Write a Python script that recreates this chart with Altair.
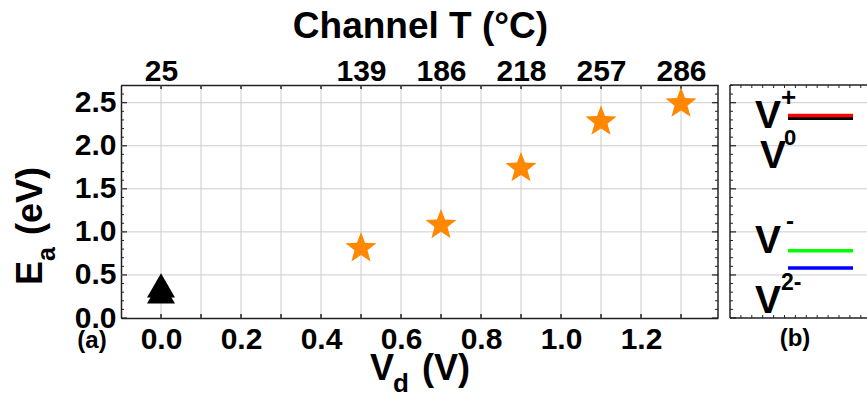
import math
import altair as alt
import pandas as pd

# ---- data -------------------------------------------------------------
# activation energy vs drain voltage (stars) and the zero-bias points (triangles)
vd_star = [0.5, 0.7, 0.9, 1.1, 1.3]
ea_star = [0.81, 1.08, 1.74, 2.28, 2.49]
vd_tri = [0.0, 0.0]
ea_tri = [0.38, 0.31]

# channel temperature reached at each drain voltage (top axis)
vd_temp = [0.0, 0.5, 0.7, 0.9, 1.1, 1.3]
temp_c = ["25", "139", "186", "218", "257", "286"]

# axis ticks
vd_grid = [0.0, 0.1, 0.2, 0.3, 0.4, 0.5, 0.6, 0.7, 0.8, 0.9, 1.0, 1.1, 1.2, 1.3]
ea_major = [0.0, 0.5, 1.0, 1.5, 2.0, 2.5]
ea_minor = [0.1, 0.2, 0.3, 0.4, 0.6, 0.7, 0.8, 0.9, 1.1, 1.2, 1.3, 1.4,
            1.6, 1.7, 1.8, 1.9, 2.1, 2.2, 2.3, 2.4, 2.6, 2.7]
pb_ticks = [1, 2, 3, 4, 5, 6, 7, 8, 9, 10, 11, 12]

# defect charge-transition levels (panel b)
level_names = ["+/0 (i)", "+/0 (ii)", "0/-", "-/2-"]
level_ea = [2.32, 2.35, 0.78, 0.58]
level_colors = ["#000000", "#ff0000", "#00ff00", "#0000ff"]

# ---- layout -----------------------------------------------------------
FONT = "Liberation Sans"
W_MAIN, B_LEFT, W, H = 597, 609, 746, 233
GRID = "#cccccc"
AX = "#222222"
ORANGE = "#ff8800"
TICK_FS = 30

xs = alt.Scale(domain=[-0.1, 1.3925], range=[0, W_MAIN], nice=False, zero=False)
ys = alt.Scale(domain=[0, 2.7055], nice=False, zero=False)
xb = alt.Scale(domain=[0, 12.57], range=[B_LEFT, W], nice=False, zero=False)

y_axis = alt.Axis(values=ea_major, format=".1f", tickSize=0, labelPadding=5,
                  labelFont=FONT, labelFontSize=TICK_FS, labelFontWeight="bold",
                  labelColor="black", domainColor=AX, domainWidth=1.5,
                  grid=False, title=None, labelOverlap=False)


def yenc(field):
    return alt.Y(f"{field}:Q", scale=ys, axis=y_axis)


def xenc(field, axis=None):
    return alt.X(f"{field}:Q", scale=xs, axis=axis)


grid_df = pd.DataFrame({"vd": vd_grid})
major_df = pd.DataFrame({"ea": ea_major})
minor_df = pd.DataFrame({"ea": ea_minor})
hgrid_df = pd.DataFrame({"ea": ea_major[1:]})
pb_df = pd.DataFrame({"k": pb_ticks})
star_df = pd.DataFrame({"vd": vd_star, "ea": ea_star})
tri_df = pd.DataFrame({"vd": vd_tri, "ea": ea_tri})
lvl_df = pd.DataFrame({"name": level_names, "ea": level_ea})
one = pd.DataFrame({"_": [0]})

# five-pointed star marker in the [-1, 1] box
pts = []
for k in range(10):
    a = math.radians(-90 + 36 * k)
    r = 1.0 if k % 2 == 0 else 0.42
    pts.append(f"{r * math.cos(a):.4f},{r * math.sin(a):.4f}")
STAR = "M" + "L".join(pts) + "Z"

bottom_axis = alt.Axis(
    orient="bottom", values=vd_grid, grid=False, tickSize=0,
    labelExpr="round(datum.value * 10) % 2 == 0 && datum.value < 1.25 ? format(datum.value, '.1f') : ''",
    labelFont=FONT, labelFontSize=TICK_FS, labelFontWeight="bold", labelColor="black",
    labelBaseline="alphabetic", labelPadding=30, labelOverlap=False, labelFlush=False,
    domainColor=AX, domainWidth=1.5, title=None)

vd_temp_js = "[" + ",".join(str(v) for v in vd_temp) + "]"
temp_js = "[" + ",".join(f"'{t}'" for t in temp_c) + "]"
top_axis = alt.Axis(
    orient="top", values=vd_temp, grid=False, tickSize=0,
    labelExpr=f"{temp_js}[indexof({vd_temp_js}, datum.value)]",
    labelFont=FONT, labelFontSize=TICK_FS, labelFontWeight="bold", labelColor="black",
    labelBaseline="alphabetic", labelPadding=5, labelOverlap=False, labelFlush=False,
    domainColor=AX, domainWidth=1.5,
    title="Channel T (°C)", titleFont=FONT, titleFontSize=37, titleFontWeight="bold",
    titleColor="black", titleX=299, titleY=-48, titleAlign="center",
    titleBaseline="alphabetic", titleAngle=0)

layers = []

# horizontal grid lines in both panels
layers.append(alt.Chart(hgrid_df).mark_rule(color=GRID, strokeWidth=1).encode(
    y=yenc("ea"), x=alt.value(0), x2=alt.value(W_MAIN)))
layers.append(alt.Chart(hgrid_df).mark_rule(color=GRID, strokeWidth=1).encode(
    y=yenc("ea"), x=alt.value(B_LEFT), x2=alt.value(W)))

# vertical grid lines, carrying the V_d axis
layers.append(alt.Chart(grid_df).mark_rule(color=GRID, strokeWidth=1).encode(
    x=xenc("vd", bottom_axis)))

# inward ticks on the top edge, carrying the temperature axis
layers.append(alt.Chart(grid_df).mark_rule(color=AX, strokeWidth=1.5).encode(
    x=xenc("vd", top_axis), y=alt.value(0), y2=alt.value(4)))

# inward ticks on the bottom edge
layers.append(alt.Chart(grid_df).mark_rule(color=AX, strokeWidth=1.5).encode(
    x=xenc("vd"), y=alt.value(H), y2=alt.value(H - 4)))

# inward y ticks: left and right of panel (a), left of panel (b)
for x0, d in [(0, 1), (W_MAIN, -1), (B_LEFT, 1)]:
    layers.append(alt.Chart(major_df).mark_rule(color=AX, strokeWidth=1.2).encode(
        y=yenc("ea"), x=alt.value(x0), x2=alt.value(x0 + 6 * d)))
    layers.append(alt.Chart(minor_df).mark_rule(color=AX, strokeWidth=1).encode(
        y=yenc("ea"), x=alt.value(x0), x2=alt.value(x0 + 3 * d)))

# frame lines not drawn by axes
layers.append(alt.Chart(one).mark_rule(color=AX, strokeWidth=1.5).encode(
    x=alt.value(W_MAIN), y=alt.value(0), y2=alt.value(H)))
layers.append(alt.Chart(one).mark_rule(color=AX, strokeWidth=1.5).encode(
    x=alt.value(B_LEFT), y=alt.value(0), y2=alt.value(H)))
layers.append(alt.Chart(one).mark_rule(color=AX, strokeWidth=1.5).encode(
    x=alt.value(B_LEFT), x2=alt.value(W), y=alt.value(0)))
layers.append(alt.Chart(one).mark_rule(color=AX, strokeWidth=1.5).encode(
    x=alt.value(B_LEFT), x2=alt.value(W), y=alt.value(H)))

# small ticks on the top and bottom edge of panel (b)
layers.append(alt.Chart(pb_df).mark_rule(color=AX, strokeWidth=1).encode(
    x=alt.X("k:Q", scale=xb, axis=None), y=alt.value(0), y2=alt.value(3)))
layers.append(alt.Chart(pb_df).mark_rule(color=AX, strokeWidth=1).encode(
    x=alt.X("k:Q", scale=xb, axis=None), y=alt.value(H), y2=alt.value(H - 3)))

# transition levels
layers.append(alt.Chart(lvl_df).mark_rule(strokeWidth=3.5).encode(
    y=yenc("ea"), x=alt.value(667), x2=alt.value(732),
    color=alt.Color("name:N", scale=alt.Scale(domain=level_names, range=level_colors),
                    legend=None)))

# data points
layers.append(alt.Chart(tri_df).mark_point(
    shape="triangle-up", size=784, filled=True, color="black", opacity=1).encode(
    x=xenc("vd"), y=yenc("ea")))
layers.append(alt.Chart(star_df).mark_point(
    shape=STAR, size=1063, filled=True, color=ORANGE, opacity=1, strokeWidth=0).encode(
    x=xenc("vd"), y=yenc("ea")))


def txt(s, x, y, size, angle=0, align="left", baseline="alphabetic"):
    return alt.Chart(one).mark_text(
        text=s, font=FONT, fontWeight="bold", fontSize=size, angle=angle,
        align=align, baseline=baseline, color="black").encode(
        x=alt.value(x), y=alt.value(y))


# axis titles with subscripts
layers += [
    txt("V", 249, 295, 36),
    txt("d", 272, 307, 26),
    txt("(V)", 301, 295, 36),
    txt("E", -79, 200, 36, angle=270),
    txt("a", -66, 176, 25, angle=270),
    txt("(eV)", -79, 150, 36, angle=270),
    txt("(a)", -29, 256, 24, align="center", baseline="middle"),
    txt("(b)", 674, 254, 24, align="center", baseline="middle"),
]

# charge-state labels in panel (b)
layers += [
    txt("V", 634, 43, 39), txt("+", 660, 21, 26),
    txt("V", 639, 83, 39), txt("0", 663, 60, 22),
    txt("V", 634, 168, 39), txt("-", 665, 144, 24),
    txt("V", 634, 228, 39), txt("2-", 660, 205, 23),
]

chart = (
    alt.layer(*layers)
    .resolve_scale(x="independent")
    .resolve_axis(x="independent")
    .properties(
        width=W, height=H,
        autosize=alt.AutoSizeParams(type="none"),
        padding={"left": 121, "top": 85, "right": 0, "bottom": 80},
        background="white",
    )
    .configure_view(strokeWidth=0)
)

chart.save("out.html", embed_options={"renderer": "svg", "actions": False})
